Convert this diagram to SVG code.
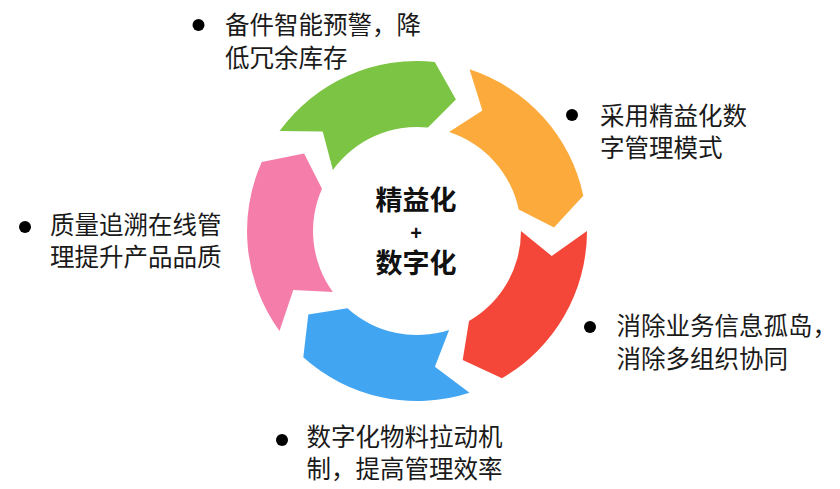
<svg xmlns="http://www.w3.org/2000/svg" width="840" height="489" viewBox="0 0 840 489">
<style>
.lbl{font-family:"Noto Sans CJK SC","Noto Sans",sans-serif;font-size:24.5px;fill:#1a1a1a}
.ctr{font-family:"Noto Sans CJK SC","Noto Sans",sans-serif;font-weight:bold;fill:#111;text-anchor:middle}
.plus{font-family:"Liberation Sans",Arial,sans-serif;font-weight:bold;fill:#111;text-anchor:middle}
.dot{fill:#000}
</style>
<rect width="840" height="489" fill="#fff"/>
<g id="connectors"/>
<g id="seg-green"><path fill="#7cc443" d="M279.5,131.1 A170 170 0 0 1 434.8,61.9 L455.9,99.6 L427.9,127.6 A104 104 0 0 0 332.9,169.9 L322.7,131.6 Z"/></g>
<g id="seg-orange"><path fill="#fbaa3b" d="M469.5,69.3 A170 170 0 0 1 583.3,195.7 L554,227.4 L518.7,209.4 A104 104 0 0 0 449.1,132.1 L482.4,110.6 Z"/></g>
<g id="seg-red"><path fill="#f4473a" d="M587,231 A170 170 0 0 1 502,378.2 L462.7,360.1 L469,321.1 A104 104 0 0 0 521,231 L551.7,256 Z"/></g>
<g id="seg-blue"><path fill="#42a5f2" d="M469.5,392.7 A170 170 0 0 1 303.3,357.3 L308.3,314.4 L347.4,308.3 A104 104 0 0 0 449.1,329.9 L434.9,366.8 Z"/></g>
<g id="seg-pink"><path fill="#f57da9" d="M279.5,330.9 A170 170 0 0 1 261.7,161.9 L304.1,153.4 L322,188.7 A104 104 0 0 0 332.9,292.1 L293.3,290 Z"/></g>
<g id="center">
<text class="ctr" x="416" y="210" font-size="27">精益化</text>
<text class="plus" x="416" y="240" font-size="20">+</text>
<text class="ctr" x="416" y="273" font-size="27">数字化</text>
</g>
<g id="label-1">
<circle class="dot" cx="198.5" cy="25" r="6"/>
<text class="lbl" x="225" y="34">备件智能预警，降</text>
<text class="lbl" x="225" y="66.5">低冗余库存</text>
</g>
<g id="label-2">
<circle class="dot" cx="572" cy="115" r="6"/>
<text class="lbl" x="600" y="124.5">采用精益化数</text>
<text class="lbl" x="600" y="157">字管理模式</text>
</g>
<g id="label-3">
<circle class="dot" cx="590" cy="327" r="6"/>
<text class="lbl" x="616.5" y="335">消除业务信息孤岛，</text>
<text class="lbl" x="616.5" y="367.5">消除多组织协同</text>
</g>
<g id="label-4">
<circle class="dot" cx="25" cy="227" r="6"/>
<text class="lbl" x="50" y="233.5">质量追溯在线管</text>
<text class="lbl" x="50" y="266">理提升产品品质</text>
</g>
<g id="label-5">
<circle class="dot" cx="282" cy="440" r="6"/>
<text class="lbl" x="306.5" y="445.5">数字化物料拉动机</text>
<text class="lbl" x="306.5" y="477.5">制，提高管理效率</text>
</g>
</svg>
